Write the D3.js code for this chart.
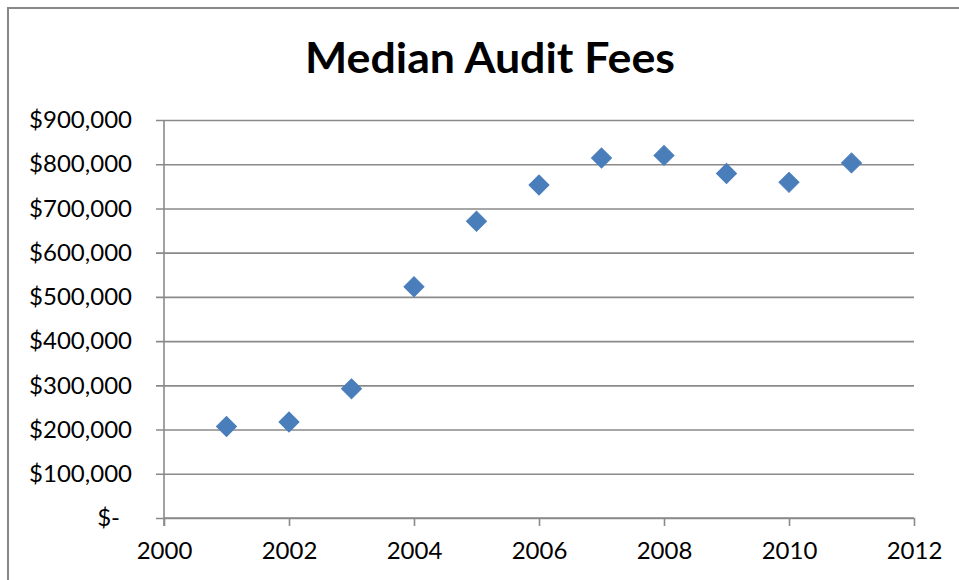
<!DOCTYPE html>
<html>
<head>
<meta charset="utf-8">
<script src="https://cdn.jsdelivr.net/npm/d3@7"></script>
<style>
  body { margin: 0; background: #fff; }
  svg { display: block; }
</style>
</head>
<body>
<svg id="chart" width="959" height="580"></svg>
<script>
// median audit fees
var years = [2001, 2002, 2003, 2004, 2005, 2006, 2007, 2008, 2009, 2010, 2011]
var fees = [207000, 217000, 292000, 523000, 671000, 753000, 814000, 820000, 779000, 759000, 803000]

var xTicks = [2000, 2002, 2004, 2006, 2008, 2010, 2012]
var yTicks = [0, 100000, 200000, 300000, 400000, 500000, 600000, 700000, 800000, 900000]

var points = years.map(function(y, i){ return {year: y, fee: fees[i]} })

var svg = d3.select("#chart")
var font = "Lato, 'Open Sans', sans-serif"
var gridColour = "#8a8a8a"

// outer chart border (only top and left show in the frame)
svg.append("rect")
  .attr("x", 8).attr("y", 8)
  .attr("width", 980).attr("height", 600)
  .attr("fill", "none")
  .attr("stroke", "#878787")
  .attr("stroke-width", 2)

var x = d3.scaleLinear().domain([2000, 2012]).range([164, 914])
var y = d3.scaleLinear().domain([0, 900000]).range([518, 120])

svg.append("text")
  .attr("x", 490).attr("y", 73)
  .attr("text-anchor", "middle")
  .attr("font-family", font)
  .attr("font-weight", "bold")
  .attr("font-size", 42)
  .attr("textLength", 370)
  .attr("lengthAdjust", "spacingAndGlyphs")
  .text("Median Audit Fees")

var fmt = function(d){
  return d === 0 ? "$-" : "$" + d3.format(",")(d)
}

/*
  y axis: gridlines run across, tick stubs poke out left
*/
var yAxis = svg.append("g")
  .attr("transform", "translate(164,0)")
  .call(d3.axisLeft(y).tickValues(yTicks).tickFormat(fmt).tickSize(8).tickPadding(24))

yAxis.select(".domain").remove()
yAxis.selectAll(".tick line")
  .attr("x1", 750)
  .attr("x2", -8)
  .attr("stroke", gridColour)
  .attr("stroke-width", 1.6)
yAxis.selectAll(".tick text")
  .attr("font-family", font)
  .attr("font-size", 24)
  .attr("fill", "#000")
yAxis.selectAll(".tick").filter(function(d){ return d === 0 }).select("text")
  .attr("dx", -12)

// vertical axis line
svg.append("line")
  .attr("x1", 164).attr("x2", 164)
  .attr("y1", 120).attr("y2", 526)
  .attr("stroke", gridColour)
  .attr("stroke-width", 1.6)

/*
  x axis
*/
var xAxis = svg.append("g")
  .attr("transform", "translate(0,518)")
  .call(d3.axisBottom(x).tickValues(xTicks).tickFormat(d3.format("d")).tickSize(8).tickPadding(16))

xAxis.select(".domain")
  .attr("d", "M164,0H914")
  .attr("stroke", gridColour)
  .attr("stroke-width", 1.6)
xAxis.selectAll(".tick line")
  .attr("stroke", gridColour)
  .attr("stroke-width", 1.6)
xAxis.selectAll(".tick text")
  .attr("font-family", font)
  .attr("font-size", 24)
  .attr("fill", "#000")

/*
  markers
*/
var diamond = d3.symbol().type(d3.symbolSquare).size(200)

svg.append("g")
  .selectAll("path")
  .data(points)
  .enter()
  .append("path")
  .attr("d", diamond)
  .attr("transform", function(d){
    return "translate(" + x(d.year) + "," + y(d.fee) + ") rotate(45)"
  })
  .attr("fill", "#4a7ebb")
  .attr("stroke", "#4a7ebb")
  .attr("stroke-width", 1)
</script>
</body>
</html>
